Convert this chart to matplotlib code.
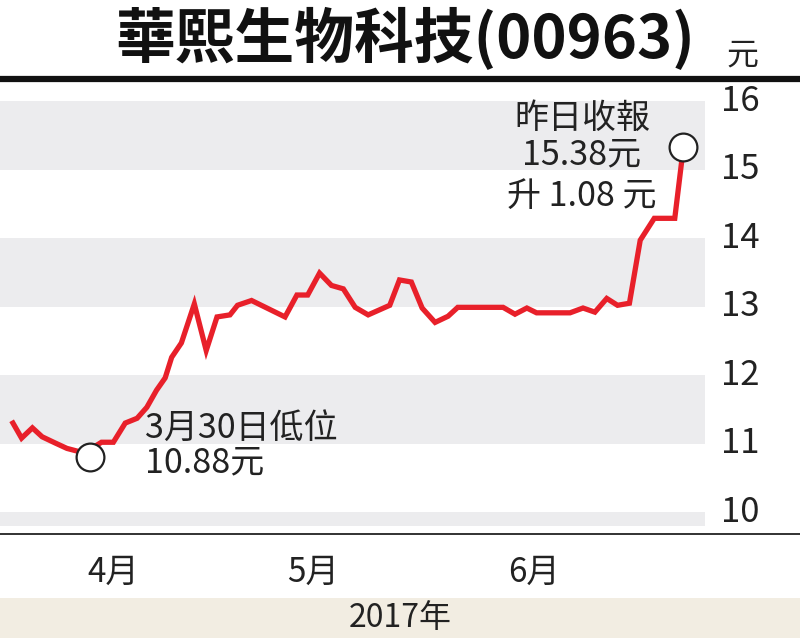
import matplotlib
matplotlib.use("Agg")
import matplotlib.pyplot as plt
from matplotlib.lines import Line2D
from matplotlib.patches import Rectangle

CJK = ["Noto Sans CJK TC", "DejaVu Sans"]
NUM = ["Liberation Sans Narrow", "Noto Sans CJK TC", "DejaVu Sans"]
plt.rcParams["font.family"] = CJK

# trading-day index and closing price (HK$)
day = [0, 0.8, 1.8, 2.7, 3.9, 5.0, 6.2, 7.1, 7.8, 8.2, 9.3, 10.4, 11.5, 12.4,
       13.3, 14.1, 14.7, 15.6, 16.8, 17.9, 18.9, 20.1, 20.8, 22.1, 25.2, 26.3,
       27.3, 28.4, 29.5, 30.6, 31.7, 32.9, 34.9, 35.8, 36.9, 37.9, 39.1, 40.3,
       41.2, 45.4, 46.5, 47.6, 48.5, 51.6, 52.8, 53.9, 55.0, 56.0, 57.1, 58.1,
       59.4, 61.3, 62.1]
price = [11.30, 11.08, 11.23, 11.10, 11.01, 10.93, 10.88, 10.80, 10.98, 11.02,
         11.02, 11.30, 11.37, 11.53, 11.78, 11.96, 12.26, 12.47, 13.04, 12.36,
         12.85, 12.88, 13.02, 13.09, 12.85, 13.17, 13.17, 13.49, 13.31, 13.26,
         12.99, 12.88, 13.02, 13.39, 13.36, 12.98, 12.77, 12.86, 12.99, 12.99,
         12.89, 12.98, 12.91, 12.91, 12.98, 12.92, 13.12, 13.02, 13.05, 13.97,
         14.29, 14.29, 15.33]
yticks = [10, 11, 12, 13, 14, 15, 16]
bands = [(15, 16), (13, 14), (11, 12), (9.8, 10)]
month_pos = [9.3, 27.8, 48.3]
month_lab = ["4月", "5月", "6月"]
low_i = 7
last_i = len(price) - 1

W, H = 800, 638
fig = plt.figure(figsize=(8.0, 6.38), dpi=100)
ax = fig.add_axes([0, 1 - 534 / H, 705 / W, (534 - 80) / H])
ax.set_xlim(-1.2, 64.1)
ax.set_ylim(9.68, 16.31)
for lo, hi in bands:
    ax.axhspan(lo, hi, color="#ececee", lw=0, zorder=0)
ax.plot(day, price, color="#e8202a", lw=3.8, solid_joinstyle="miter", zorder=3)
ax.plot([day[low_i], day[last_i]], [price[low_i], price[last_i]], "o", ms=20,
        mfc="white", mec="#222222", mew=1.6, zorder=4)
ax.set_xticks([]); ax.set_yticks([])
for sp in ax.spines.values():
    sp.set_visible(False)

# right-side price labels
for v in yticks:
    ax.text(64.1 + 3.3, v, str(v), ha="center", va="center", fontsize=25,
            family=NUM, color="#222222", clip_on=False)

# month labels below axis
for p, lab in zip(month_pos, month_lab):
    ax.text(p, 9.12, lab, ha="center", va="center", fontsize=24, family=NUM,
            color="#222222", clip_on=False)

TXT = dict(fontsize=24.5, color="#222222", va="center")
ax.text(12.2, 11.22, "3月30日低位", ha="left", **TXT)
ax.text(12.2, 10.72, "10.88元", ha="left", **TXT)
ax.text(52.7, 15.75, "昨日收報", ha="center", **TXT)
ax.text(52.7, 15.21, "15.38元", ha="center", **TXT)
ax.text(52.7, 14.61, "升 1.08 元", ha="center", **TXT)

# rules and footer band
fig.add_artist(Line2D([0, 1], [1 - 79 / H] * 2, color="#111111", lw=4.5))
fig.add_artist(Line2D([0, 1], [1 - 534 / H] * 2, color="#222222", lw=1.3))
fig.add_artist(Rectangle((0, 0), 1, 40 / H, color="#f2ede2", lw=0))
fig.text(0.5, 20 / H, "2017年", ha="center", va="center", fontsize=23,
         family=NUM, color="#222222")

fig.text(695 / W, 1 - 40 / H, "華熙生物科技(00963)", ha="right", va="center",
         fontsize=43, fontweight="bold", color="#111111")
fig.text(742 / W, 1 - 56 / H, "元", ha="center", va="center", fontsize=23,
         color="#222222")

fig.savefig("out.png", dpi=100)
